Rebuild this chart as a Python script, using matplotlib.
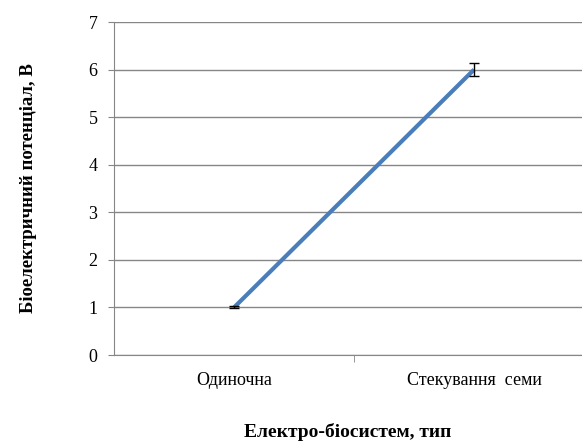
import matplotlib.pyplot as plt

categories = ['Одиночна', 'Стекування  семи']
potential = [1, 6]
errors = [0.02, 0.13]

plt.rcParams['font.family'] = ['Liberation Serif', 'DejaVu Serif']

fig = plt.figure(figsize=(5.82, 4.41), dpi=100)
ax = fig.add_axes([0.196, 0.195, 0.804, 0.755])

x = list(range(len(categories)))
ax.plot(x, potential, color='#4a7ebb', linewidth=3, solid_capstyle='butt', zorder=3)
ax.errorbar(x, potential, yerr=errors, fmt='none', ecolor='black', elinewidth=1,
            capsize=3.5, capthick=1, zorder=4)

ax.set_ylim(0, 7)
ax.set_yticks(range(8))
ax.set_xlim(-0.5, -0.5 + 468 / 240)
ax.set_xticks(x)
ax.set_xticklabels(categories, fontsize=13)
ax.set_xticks([0.5], minor=True)
ax.tick_params(axis='x', which='major', length=0, pad=12)
ax.tick_params(axis='x', which='minor', length=5, color='#868686', direction='out')
ax.tick_params(axis='y', length=4, color='#868686', labelsize=13, pad=8)

ax.grid(axis='y', color='#868686', linewidth=1)
ax.set_axisbelow(True)
for side in ['top', 'right']:
    ax.spines[side].set_visible(False)
for side in ['left', 'bottom']:
    ax.spines[side].set_color('#868686')

ax.set_ylabel('Біоелектричний потенціал, В', fontsize=13.5, fontweight='bold', labelpad=37)
ax.set_xlabel('Електро-біосистем, тип', fontsize=14, fontweight='bold', labelpad=25)

fig.savefig('out.png', dpi=100)
